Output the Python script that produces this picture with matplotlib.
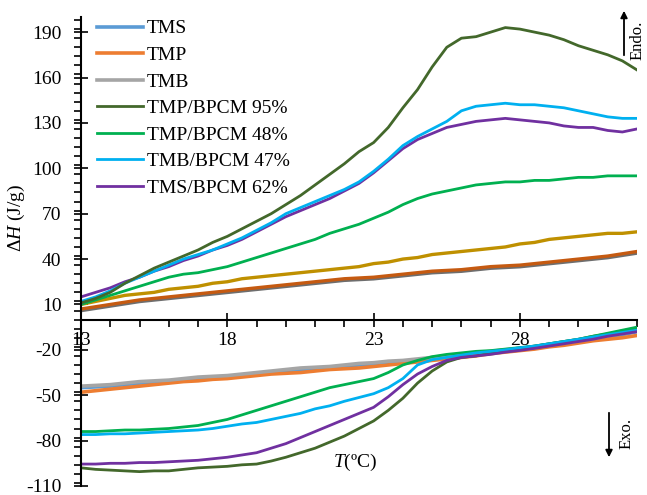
import numpy as np
import matplotlib
matplotlib.use("Agg")
from matplotlib import pyplot as plt
from matplotlib.ticker import MultipleLocator, FixedLocator

plt.rcParams['font.family'] = ['Liberation Serif', 'DejaVu Serif']
plt.rcParams['mathtext.fontset'] = 'custom'
plt.rcParams['mathtext.rm'] = 'Liberation Serif'
plt.rcParams['mathtext.it'] = 'Liberation Serif:italic'
plt.rcParams['axes.unicode_minus'] = False

# temperature grid (degC), 0.5 step
temp = np.arange(13, 32.01, 0.5)

# heating runs (upper half)
heat_tmp95 = [11, 14, 18, 24, 29, 34, 38, 42, 46, 51, 55, 60, 65, 70, 76, 82, 89, 96, 103, 111,
              117, 127, 140, 152, 167, 180, 186, 187, 190, 193, 192, 190, 188, 185, 181, 178, 175, 171, 165]
heat_tmb47 = [12, 15, 19, 24, 28, 32, 36, 40, 43, 46, 50, 54, 59, 64, 70, 74, 78, 82, 86, 91,
              98, 106, 115, 121, 126, 131, 138, 141, 142, 143, 142, 142, 141, 140, 138, 136, 134, 133, 133]
heat_tms62 = [15, 18, 21, 25, 28, 32, 35, 39, 42, 46, 49, 53, 58, 63, 68, 72, 76, 80, 85, 90,
              97, 105, 113, 119, 123, 127, 129, 131, 132, 133, 132, 131, 130, 128, 127, 127, 125, 124, 126]
heat_tmp48 = [10, 13, 16, 19, 22, 25, 28, 30, 31, 33, 35, 38, 41, 44, 47, 50, 53, 57, 60, 63,
              67, 71, 76, 80, 83, 85, 87, 89, 90, 91, 91, 92, 92, 93, 94, 94, 95, 95, 95]
heat_gold = [10, 12, 14, 16, 17, 18, 20, 21, 22, 24, 25, 27, 28, 29, 30, 31, 32, 33, 34, 35,
             37, 38, 40, 41, 43, 44, 45, 46, 47, 48, 50, 51, 53, 54, 55, 56, 57, 57, 58]
heat_brown = [7, 8.5, 10, 11.5, 13, 14, 15, 16, 17, 18, 19, 20, 21, 22, 23, 24, 25, 26, 27, 27.5,
              28, 29, 30, 31, 32, 32.5, 33, 34, 35, 35.5, 36, 37, 38, 39, 40, 41, 42, 43.5, 45]
heat_dgray = [6, 7.5, 9, 10.5, 12, 13, 14, 15, 16, 17, 18, 19, 20, 21, 22, 23, 24, 25, 26, 26.5,
              27, 28, 29, 30, 31, 31.5, 32, 33, 34, 34.5, 35, 36, 37, 38, 39, 40, 41, 42.5, 44]

# cooling runs (lower half)
cool_tms = [-45, -44.5, -44, -43, -42, -41.5, -41, -40, -39, -38.5, -38, -37, -36, -35, -34, -33.5,
            -32.5, -31.5, -31, -30, -29.5, -28.5, -28, -27, -26, -25, -24, -23, -22, -21, -20,
            -19, -17.5, -16.5, -15, -13.5, -11.5, -10, -8]
cool_tmp = [-48, -47, -46, -45, -44, -43, -42, -41, -40.5, -39.5, -39, -38, -37, -36, -35.5, -35,
            -34, -33, -32.5, -32, -31, -30, -29, -28, -27, -26, -25, -24, -22.5, -21.5, -20.5,
            -19.5, -18, -17, -15.5, -14, -13, -12, -10.5]
cool_tmb = [-44, -43.5, -43, -42, -41, -40.5, -40, -39, -38, -37.5, -37, -36, -35, -34, -33, -32,
            -31.5, -31, -30, -29, -28.5, -27.5, -27, -26, -25, -24, -23, -22, -21, -20, -19,
            -18, -16.5, -15.5, -14, -12.5, -10.5, -9, -7]
cool_tmp95 = [-98, -99, -99.5, -100, -100.5, -100, -100, -99, -98, -97.5, -97, -96, -95.5, -93.5, -91, -88,
              -85, -81, -77, -72, -67, -60, -52, -42, -34, -28, -25, -24, -22, -20.5, -19,
              -17.5, -16, -14.5, -13, -11, -9.5, -7.5, -5.5]
cool_tmp48 = [-74, -74, -73.5, -73, -73, -72.5, -72, -71, -70, -68, -66, -63, -60, -57, -54, -51,
              -48, -45, -43, -41, -39, -35, -30, -27, -24.5, -23, -22, -21, -20.5, -19.5, -18.5,
              -17.5, -16, -14.5, -13, -11, -9, -7, -5]
cool_tmb47 = [-76, -76, -75.5, -75.5, -75, -74.5, -74, -73.5, -73, -72, -70.5, -69, -68, -66, -64, -62,
              -59, -57, -54, -51.5, -49, -45, -39, -30, -26.5, -25, -23.5, -22, -21, -20, -18.6,
              -17.5, -16, -14.5, -13, -11.5, -10, -8.5, -7]
cool_tms62 = [-95.5, -95.5, -95, -95, -94.5, -94.5, -94, -93.5, -93, -92, -91, -89.5, -88, -85, -82, -78,
              -74, -70, -66, -62, -58, -51, -43, -36, -31, -27, -25, -24, -23, -21.5, -20.4,
              -19, -17.5, -16, -14.5, -13, -11, -9.5, -8]

names = ['TMS', 'TMP', 'TMB', 'TMP/BPCM 95%', 'TMP/BPCM 48%', 'TMB/BPCM 47%', 'TMS/BPCM 62%']
colors = ['#5B9BD5', '#ED7D31', '#A5A5A5', '#43682B', '#00B050', '#00B0F0', '#7030A0']

fig = plt.figure(figsize=(6.47, 4.95), dpi=100)
ax = fig.add_axes([81 / 647, 9 / 495, 556 / 647, 469 / 495])

# heating curves, no legend entries
ax.plot(temp, heat_dgray, color='#6E6E6E', lw=2.6)
ax.plot(temp, heat_brown, color='#C55A11', lw=2.4)
ax.plot(temp, heat_gold, color='#BF9000', lw=2.4)
ax.plot(temp, heat_tmp48, color=colors[4], lw=2.0)
ax.plot(temp, heat_tms62, color=colors[6], lw=2.0)
ax.plot(temp, heat_tmb47, color=colors[5], lw=2.0)
ax.plot(temp, heat_tmp95, color=colors[3], lw=2.0)

# cooling curves with legend
cool = [cool_tms, cool_tmp, cool_tmb, cool_tmp95, cool_tmp48, cool_tmb47, cool_tms62]
widths = [2.6, 2.6, 2.6, 2.0, 2.0, 2.0, 2.0]
lines = []
for vals, name, c, w in zip(cool, names, colors, widths):
    ln, = ax.plot(temp, vals, color=c, lw=w, label=name)
    lines.append(ln)

ax.set_xlim(13, 32)
ax.set_ylim(-110, 200)
ax.spines['top'].set_visible(False)
ax.spines['right'].set_visible(False)
ax.spines['bottom'].set_position(('data', 0))
ax.spines['left'].set_linewidth(1.5)
ax.spines['bottom'].set_linewidth(1.5)

ax.xaxis.set_major_locator(FixedLocator([13, 18, 23, 28]))
ax.xaxis.set_minor_locator(MultipleLocator(1))
ax.yaxis.set_major_locator(FixedLocator(np.arange(-110, 191, 30)))
ax.yaxis.set_minor_locator(MultipleLocator(6))
ax.tick_params(which='major', direction='inout', length=10, width=1.2, labelsize=14)
ax.tick_params(which='minor', direction='out', length=5, width=1.2)
ax.tick_params(axis='x', which='major', pad=4)
ax.tick_params(axis='y', which='major', pad=9)

ax.set_xlabel(r'$\mathit{T}$(ºC)', fontsize=14)
ax.xaxis.set_label_coords(0.493, 0.072)
ax.set_ylabel(r'$\mathit{\Delta H}$ (J/g)', fontsize=14)
ax.yaxis.set_label_coords(-0.098, 0.571)

leg = ax.legend(handles=lines, loc='upper left', bbox_to_anchor=(0.028, 0.994), frameon=False,
                fontsize=14, handlelength=2.4, handletextpad=0.2, labelspacing=0.46,
                borderaxespad=0, borderpad=0)

# endo / exo arrows
ax.annotate('', xy=(624 / 647, 1 - 8 / 495), xytext=(624 / 647, 1 - 58 / 495),
            xycoords='figure fraction', arrowprops=dict(arrowstyle='-|>', color='black', lw=1.3))
fig.text(638 / 647, 1 - 40 / 495, 'Endo.', rotation=90, ha='center', va='center', fontsize=12)
ax.annotate('', xy=(609 / 647, 1 - 460 / 495), xytext=(609 / 647, 1 - 410 / 495),
            xycoords='figure fraction', arrowprops=dict(arrowstyle='-|>', color='black', lw=1.3))
fig.text(627 / 647, 1 - 433 / 495, 'Exo.', rotation=90, ha='center', va='center', fontsize=12)

fig.savefig('out.png', dpi=100)
